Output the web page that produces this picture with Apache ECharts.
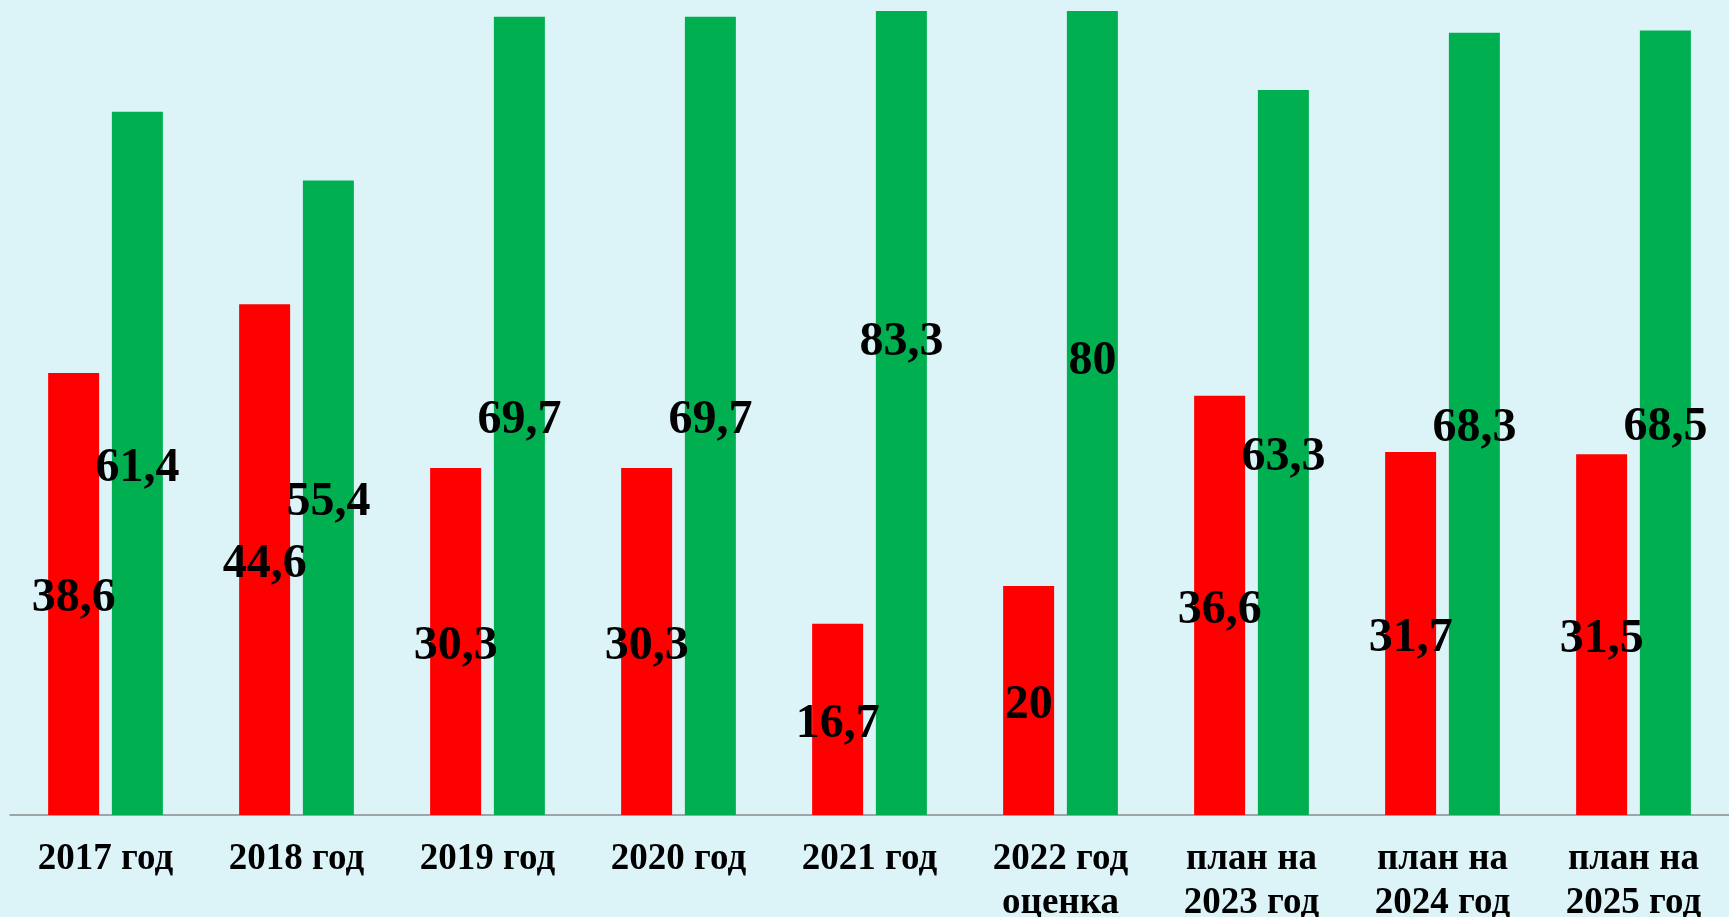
<!DOCTYPE html>
<html>
<head>
<meta charset="utf-8">
<style>
html,body{margin:0;padding:0;background:#DCF4F8;}
#chart{width:1729px;height:917px;}
</style>
<script src="https://cdn.jsdelivr.net/npm/echarts@6/dist/echarts.min.js"></script>
</head>
<body>
<div id="chart"></div>
<script>
const categories = ['2017 год','2018 год','2019 год','2020 год','2021 год','2022 год\nоценка','план на\n2023 год','план на\n2024 год','план на\n2025 год'];
const redValues = [38.6, 44.6, 30.3, 30.3, 16.7, 20, 36.6, 31.7, 31.5];
const greenValues = [61.4, 55.4, 69.7, 69.7, 83.3, 80, 63.3, 68.3, 68.5];

const bg = '#DCF4F8';
const chart = echarts.init(document.getElementById('chart'));
const fmt = p => String(p.value).replace('.', ',');
const labelStyle = {
  show: true,
  position: 'inside',
  offset: [0, 5],
  formatter: fmt,
  color: '#000',
  fontFamily: 'Liberation Serif',
  fontWeight: 'bold',
  fontSize: 48
};
chart.setOption({
  backgroundColor: bg,
  animation: false,
  grid: {left: 10, right: 0, top: 11, bottom: 102, containLabel: false, outerBoundsMode: 'none'},
  xAxis: {
    type: 'category',
    data: categories,
    axisLine: {lineStyle: {color: '#8a8a8a', width: 1.5}},
    axisTick: {show: false},
    axisLabel: {
      color: '#000',
      fontFamily: 'Liberation Serif',
      fontWeight: 'bold',
      fontSize: 37,
      lineHeight: 44,
      margin: 22,
      interval: 0
    }
  },
  yAxis: {
    type: 'value',
    min: 0,
    max: 70.2,
    show: false,
    splitLine: {show: false}
  },
  series: [
    {
      type: 'bar',
      data: redValues,
      barWidth: 51,
      barGap: '25%',
      clip: false,
      itemStyle: {color: '#FF0000'},
      label: labelStyle
    },
    {
      type: 'bar',
      data: greenValues,
      barWidth: 51,
      clip: false,
      itemStyle: {color: '#00B050'},
      label: labelStyle
    }
  ],
  graphic: [{
    type: 'rect',
    left: 0,
    top: 0,
    z: 100,
    shape: {width: 1729, height: 11},
    style: {fill: bg}
  }]
});
</script>
</body>
</html>
